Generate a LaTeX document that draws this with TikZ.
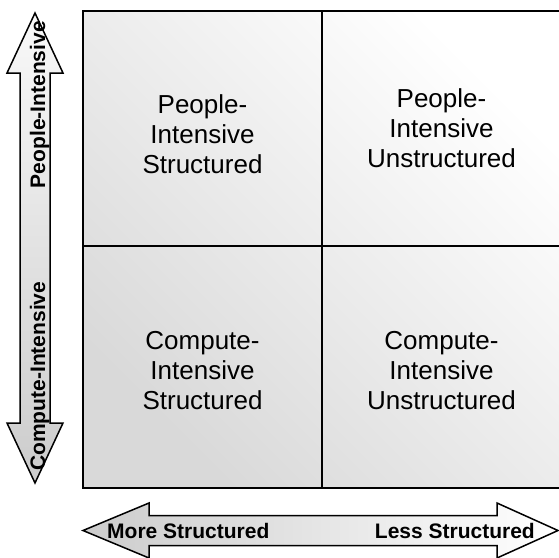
\documentclass[tikz,border=0pt]{standalone}
\usepackage{fontspec}
\setmainfont{Liberation Sans}
\begin{document}
\begin{tikzpicture}[x=1pt,y=-1pt,
  quad/.style={align=center,inner sep=0pt,font=\fontsize{26}{30}\selectfont},
  axlabel/.style={inner sep=0pt,font=\bfseries\fontsize{21}{25}\selectfont},
  arrowshape/.style={draw=black,line width=1.5pt,line join=miter}]
\useasboundingbox (0,0) rectangle (559,557);
% matrix box
\shade[top color=white,bottom color=gray!30,shading angle=-45] (83,11) rectangle (561,488);
\draw[line width=1.5pt] (322,11) -- (322,488);
\draw[line width=1.5pt] (83,246) -- (561,246);
\draw[line width=2.2pt] (83,11) rectangle (561,488);
% quadrant texts
\node[quad] (pis) at (202.5,134.5) {People-\\Intensive\\Structured};
\node[quad] (piu) at (441.5,128) {People-\\Intensive\\Unstructured};
\node[quad] (cis) at (202.5,370.5) {Compute-\\Intensive\\Structured};
\node[quad] (ciu) at (441.5,370.5) {Compute-\\Intensive\\Unstructured};
% vertical double arrow
\shade[top color=gray!5,bottom color=gray!40,arrowshape]
  (35,13) -- (63,73) -- (50,73) -- (50,423) -- (63,423) -- (35,483) -- (7,423) -- (20,423) -- (20,73) -- (7,73) -- cycle;
\node[axlabel,rotate=90,anchor=base east] (pint) at (45,21) {People-Intensive};
\node[axlabel,rotate=90,anchor=base west] (cint) at (45,471) {Compute-Intensive};
% horizontal double arrow
\shade[left color=gray!40,right color=white,arrowshape]
  (83,530.5) -- (149,503) -- (149,515.5) -- (497,515.5) -- (497,503) -- (558,530.5) -- (497,558) -- (497,545.5) -- (149,545.5) -- (149,558) -- cycle;
\node[axlabel,anchor=base west] (mst) at (107,538) {More Structured};
\node[axlabel,anchor=base east] (lst) at (535,538) {Less Structured};
\end{tikzpicture}
\end{document}
